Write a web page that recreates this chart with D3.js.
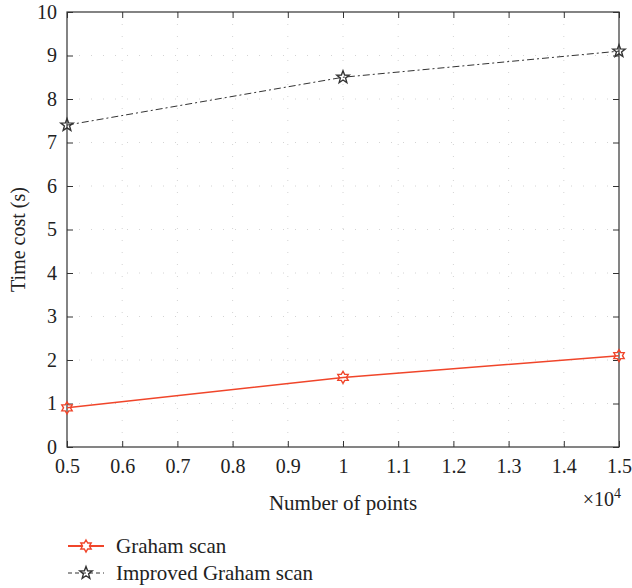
<!DOCTYPE html>
<html>
<head>
<meta charset="utf-8">
<script src="https://cdn.jsdelivr.net/npm/d3@7"></script>
<style>
  body { margin: 0; background: #fff; }
  svg text { font-family: "Liberation Serif", "DejaVu Serif", serif; fill: #222; }
</style>
</head>
<body>
<div id="chart"></div>
<script>
// Data (x in units of 10^4 points)
const xValues = [0.5, 1.0, 1.5];
const grahamTimes = [0.9, 1.6, 2.1];
const improvedTimes = [7.4, 8.5, 9.1];
const xTicks = [0.5, 0.6, 0.7, 0.8, 0.9, 1, 1.1, 1.2, 1.3, 1.4, 1.5];
const yTicks = [0, 1, 2, 3, 4, 5, 6, 7, 8, 9, 10];
const seriesNames = ['Graham scan', 'Improved Graham scan'];

const width = 632, height = 588;
const margin = { top: 12, right: 13, bottom: 141, left: 67 };
const innerW = width - margin.left - margin.right;
const innerH = height - margin.top - margin.bottom;

const svg = d3.select('#chart').append('svg')
  .attr('width', width)
  .attr('height', height);

const g = svg.append('g')
  .attr('transform', `translate(${margin.left},${margin.top})`);

const x = d3.scaleLinear().domain([0.5, 1.5]).range([0, innerW]);
const y = d3.scaleLinear().domain([0, 10]).range([innerH, 0]);

// dotted grid
g.append('g').selectAll('line').data(xTicks.slice(1, -1)).join('line')
  .attr('x1', d => x(d)).attr('x2', d => x(d))
  .attr('y1', 0).attr('y2', innerH)
  .attr('stroke', '#d4d4d4').attr('stroke-width', 1)
  .attr('stroke-dasharray', '1,11');
g.append('g').selectAll('line').data(yTicks.slice(1, -1)).join('line')
  .attr('x1', 0).attr('x2', innerW)
  .attr('y1', d => y(d)).attr('y2', d => y(d))
  .attr('stroke', '#d4d4d4').attr('stroke-width', 1)
  .attr('stroke-dasharray', '1,11');

// axes with inward ticks
const fmtX = d => String(+d.toFixed(1));
const axisStyle = sel => {
  sel.attr('font-size', null).attr('font-family', null);
  sel.select('.domain').remove();
  sel.selectAll('line').attr('stroke', '#333');
  sel.selectAll('text').style('font-size', '20px').attr('fill', '#222');
};

g.append('g').attr('transform', `translate(0,${innerH})`)
  .call(d3.axisBottom(x).tickValues(xTicks).tickSize(-6).tickPadding(12).tickFormat(fmtX))
  .call(axisStyle);
g.append('g')
  .call(d3.axisTop(x).tickValues(xTicks).tickSize(-6).tickFormat(''))
  .call(axisStyle);
g.append('g')
  .call(d3.axisLeft(y).tickValues(yTicks).tickSize(-6).tickPadding(10))
  .call(axisStyle);
g.append('g').attr('transform', `translate(${innerW},0)`)
  .call(d3.axisRight(y).tickValues(yTicks).tickSize(-6).tickFormat(''))
  .call(axisStyle);

// frame
g.append('rect')
  .attr('width', innerW).attr('height', innerH)
  .attr('fill', 'none').attr('stroke', '#333').attr('stroke-width', 1.2);

// markers
const hexagram = r => {
  const pts = [];
  for (let i = 0; i < 12; i++) {
    const a = Math.PI / 6 * i - Math.PI / 2;
    const rr = i % 2 === 0 ? r : r * 0.58;
    pts.push([rr * Math.cos(a), rr * Math.sin(a)]);
  }
  return 'M' + pts.map(p => p.join(',')).join('L') + 'Z';
};
const pentagram = r => {
  const pts = [];
  for (let i = 0; i < 10; i++) {
    const a = Math.PI / 5 * i - Math.PI / 2;
    const rr = i % 2 === 0 ? r : r * 0.42;
    pts.push([rr * Math.cos(a), rr * Math.sin(a)]);
  }
  return 'M' + pts.map(p => p.join(',')).join('L') + 'Z';
};

const line = d3.line().x(d => x(d[0])).y(d => y(d[1]));
const series = [
  { name: seriesNames[0], values: grahamTimes, color: '#f0452a', dash: null, width: 1.5, marker: hexagram(6) },
  { name: seriesNames[1], values: improvedTimes, color: '#333', dash: '7,3,2,3', width: 1, marker: pentagram(6.5) }
];

series.forEach(s => {
  const pts = xValues.map((v, i) => [v, s.values[i]]);
  g.append('path').datum(pts)
    .attr('d', line)
    .attr('fill', 'none')
    .attr('stroke', s.color)
    .attr('stroke-width', s.width)
    .attr('stroke-dasharray', s.dash);
  g.selectAll(null).data(pts).join('path')
    .attr('d', s.marker)
    .attr('transform', d => `translate(${x(d[0])},${y(d[1])})`)
    .attr('fill', 'none')
    .attr('stroke', s.color)
    .attr('stroke-width', 1.4);
});

// axis labels
svg.append('text')
  .attr('x', margin.left + innerW / 2)
  .attr('y', 510)
  .attr('text-anchor', 'middle')
  .style('font-size', '21px')
  .text('Number of points');

const exp = svg.append('text')
  .attr('x', 621)
  .attr('y', 506)
  .attr('text-anchor', 'end')
  .style('font-size', '20px');
exp.append('tspan').text('×10');
exp.append('tspan').attr('dy', -8).style('font-size', '14px').text('4');

svg.append('text')
  .attr('transform', `translate(25,${margin.top + innerH / 2 + 10}) rotate(-90)`)
  .attr('text-anchor', 'middle')
  .style('font-size', '20px')
  .text('Time cost (s)');

// legend
const legend = svg.append('g').attr('transform', 'translate(68,546)');
series.forEach((s, i) => {
  const row = legend.append('g').attr('transform', `translate(0,${i * 27})`);
  row.append('line')
    .attr('x1', 0).attr('x2', 36)
    .attr('stroke', s.color)
    .attr('stroke-width', i === 0 ? 1.8 : 1)
    .attr('stroke-dasharray', i === 0 ? null : '4,3');
  row.append('path')
    .attr('d', s.marker)
    .attr('transform', 'translate(18,0)')
    .attr('fill', i === 0 ? '#fff' : 'none')
    .attr('stroke', s.color)
    .attr('stroke-width', 1.4);
  row.append('text')
    .attr('x', 48)
    .attr('y', 7)
    .style('font-size', '21px')
    .text(s.name);
});
</script>
</body>
</html>
